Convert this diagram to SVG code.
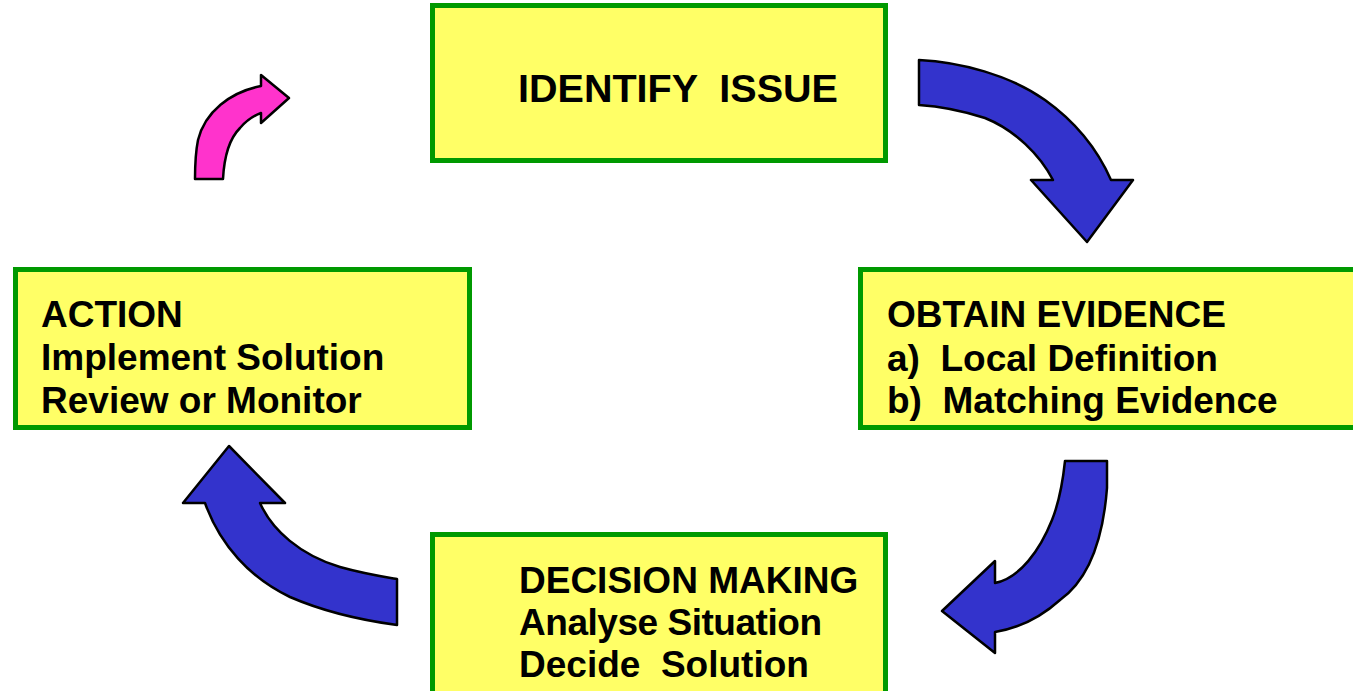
<svg xmlns="http://www.w3.org/2000/svg" width="1353" height="691" viewBox="0 0 1353 691">
<style>
.box{fill:#FFFF66;stroke:#009900;stroke-width:5}
.t{font-family:"Liberation Sans",Arial,sans-serif;font-weight:bold;font-size:37px;fill:#000;white-space:pre}
.blue{fill:#3333CC;stroke:#000;stroke-width:2.5;stroke-linejoin:round}
.pink{fill:#FF33CC;stroke:#000;stroke-width:2.5;stroke-linejoin:round}
</style>
<rect width="1353" height="691" fill="#fff"/>
<g id="connectors">
<path class="blue" d="M919,60 C960,62 1010,75 1045,100 C1080,125 1100,155 1111,180 L1133,180 L1087,242 L1031,180 L1053,180 C1040,155 1015,130 985,118 C960,110 935,106 919,105 Z"/>
<path class="blue" d="M1065,461 L1107,461 L1107,488 C1103,540 1088,580 1060,600 C1040,618 1020,628 995,632 L995,653 L942,611 L995,561 L995,583 C1020,578 1040,550 1052,520 C1060,500 1063,480 1065,461 Z"/>
<path class="blue" d="M229,446 L285,503 L260,503 C272,530 300,555 340,567 C365,574 385,577 397,579 L397,625 C360,620 320,610 290,597 C250,578 220,545 205,503 L183,503 Z"/>
<path class="pink" d="M289,98 L261,75 L261,86 C230,92 205,112 198,140 C195,155 195,170 195,179 L223,179 C224,160 228,140 240,128 C246,121 253,116 261,113 L261,123 Z"/>
</g>
<g id="identify">
<rect class="box" x="432.5" y="5.5" width="453" height="155"/>
<text class="t" x="518" y="102" style="font-size:39.5px" textLength="320" lengthAdjust="spacingAndGlyphs">IDENTIFY  ISSUE</text>
</g>
<g id="obtain">
<rect class="box" x="860.5" y="269.5" width="500" height="158"/>
<text class="t" x="887" y="327" textLength="339" lengthAdjust="spacingAndGlyphs">OBTAIN EVIDENCE</text>
<text class="t" x="887" y="371">a)  Local Definition</text>
<text class="t" x="887" y="413">b)  Matching Evidence</text>
</g>
<g id="action">
<rect class="box" x="15.5" y="269.5" width="454" height="158"/>
<text class="t" x="41" y="327">ACTION</text>
<text class="t" x="41" y="370">Implement Solution</text>
<text class="t" x="41" y="413">Review or Monitor</text>
</g>
<g id="decision">
<rect class="box" x="432.5" y="534.5" width="453" height="200"/>
<text class="t" x="519" y="593">DECISION MAKING</text>
<text class="t" x="519" y="635" textLength="303" lengthAdjust="spacing">Analyse Situation</text>
<text class="t" x="519" y="677">Decide  Solution</text>
</g>
</svg>
